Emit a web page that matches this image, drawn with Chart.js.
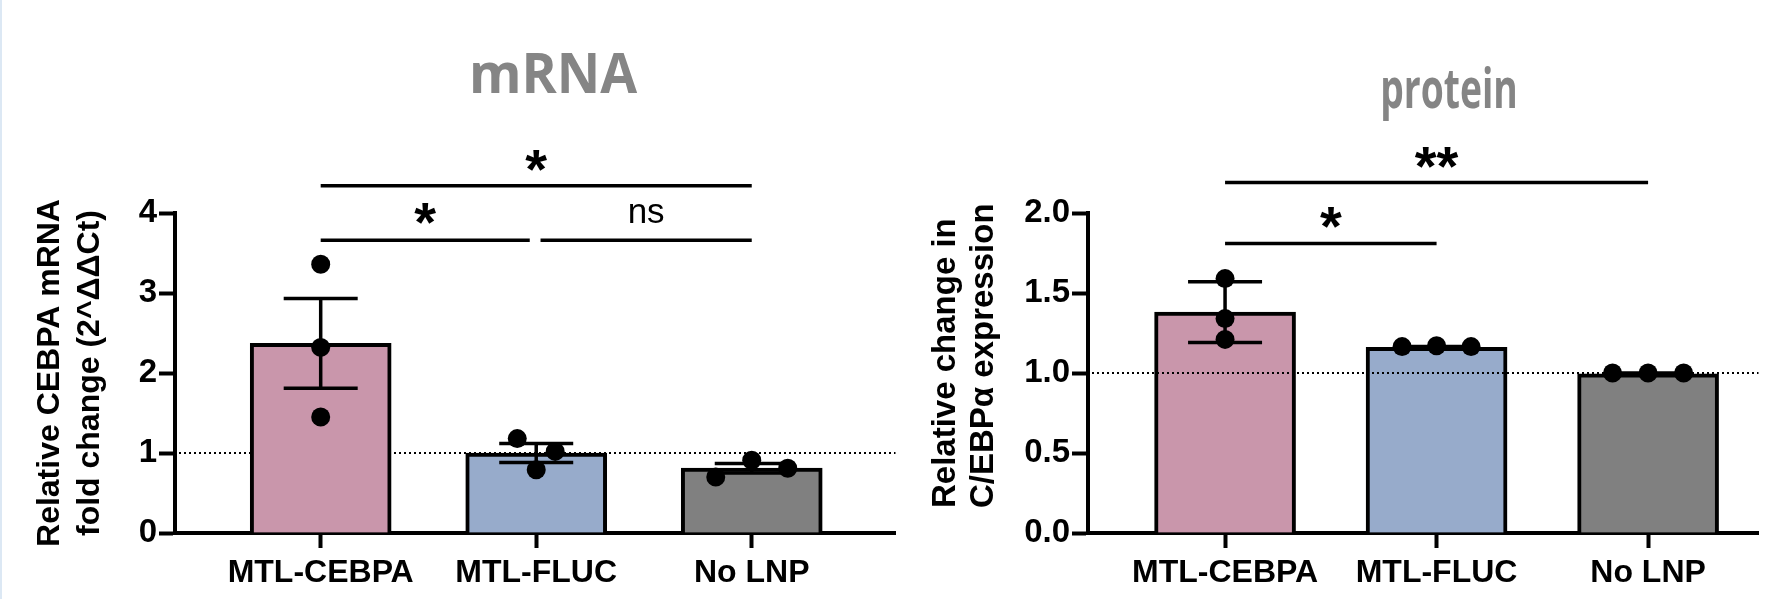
<!DOCTYPE html>
<html><head><meta charset="utf-8">
<script src="https://cdn.jsdelivr.net/npm/chart.js@4.4.1/dist/chart.umd.min.js"></script>
<style>
html,body{margin:0;padding:0;background:#fff;overflow:hidden;width:1768px;height:599px;}
#edge{position:absolute;left:0;top:0;width:2px;height:599px;background:#dce8f4;}
#w1{position:absolute;left:0;top:0;width:905px;height:599px;}
#w2{position:absolute;left:905px;top:0;width:863px;height:599px;}
</style></head><body>
<div id="edge"></div>
<div id="w1"><canvas id="c1"></canvas></div>
<div id="w2"><canvas id="c2"></canvas></div>
<script>
// ---- data ----
const categories = ['MTL-CEBPA', 'MTL-FLUC', 'No LNP'];
const barColors = ['#c996ab', '#97abcb', '#808080'];

const mrnaMeans = [2.37, 1.00, 0.81];
const mrnaErrors = [0.56, 0.12, 0.06];          // SEM
const mrnaPointGroup = [0, 0, 0, 1, 1, 1, 2, 2, 2];
const mrnaPointJitter = [0, 0, 0, -0.088, 0.088, 0, -0.167, 0, 0.167];
const mrnaPointValues = [3.36, 2.32, 1.45, 1.18, 1.02, 0.79, 0.70, 0.91, 0.81];
const mrnaTicks = [0, 1, 2, 3, 4];
const mrnaSig = [
  {from: 0, to: 2, level: 4.34, label: '*', labelLevel: 4.66},
  {from: 0, to: 0.97, level: 3.66, label: '*', labelLevel: 4.0},
  {from: 1.02, to: 2, level: 3.66, label: 'ns', labelLevel: 4.0}
];

const proteinMeans = [1.38, 1.16, 0.995];
const proteinErrors = [0.19, 0.005, 0.005];      // SD
const proteinPointGroup = [0, 0, 0, 1, 1, 1, 2, 2, 2];
const proteinPointJitter = [0, 0, 0, -0.163, 0, 0.163, -0.168, 0, 0.168];
const proteinPointValues = [1.59, 1.34, 1.21, 1.165, 1.17, 1.165, 1.0, 1.0, 1.0];
const proteinTicks = [0, 0.5, 1.0, 1.5, 2.0];
const proteinSig = [
  {from: 0, to: 2, level: 2.19, label: '**', labelLevel: 2.35},
  {from: 0, to: 1, level: 1.81, label: '*', labelLevel: 1.97}
];

const FONT = "'Liberation Sans', Arial, sans-serif";

function centeredText(ctx, text, x, cy) {
  ctx.textAlign = 'center';
  ctx.textBaseline = 'alphabetic';
  const m = ctx.measureText(text);
  const base = cy + (m.actualBoundingBoxAscent - m.actualBoundingBoxDescent) / 2;
  ctx.fillText(text, x, base);
}

const decor = {
  id: 'decor',
  beforeDatasetsDraw(chart, args, o) {
    if (o.refUnder) drawRef(chart, o);
  },
  afterDatasetDraw(chart, args, o) {
    if (args.index !== 0) return;
    if (!o.refUnder) drawRef(chart, o);
    const {ctx, scales: {x, y}} = chart;
    ctx.save();
    ctx.strokeStyle = '#000';
    ctx.lineWidth = 3.5;
    o.means.forEach((m, i) => {
      const e = o.errors[i];
      const px = x.getPixelForValue(i);
      const y1 = y.getPixelForValue(m + e), y2 = y.getPixelForValue(m - e);
      ctx.beginPath();
      ctx.moveTo(px, y1); ctx.lineTo(px, y2);
      ctx.moveTo(px - o.capW, y1); ctx.lineTo(px + o.capW, y1);
      ctx.moveTo(px - o.capW, y2); ctx.lineTo(px + o.capW, y2);
      ctx.stroke();
    });
    ctx.restore();
  },
  afterDraw(chart, args, o) {
    const {ctx, scales: {x, y}} = chart;
    ctx.save();
    ctx.strokeStyle = '#000';
    ctx.fillStyle = '#000';
    ctx.lineWidth = 3.5;
    o.sig.forEach(s => {
      const py = y.getPixelForValue(s.level);
      ctx.beginPath();
      ctx.moveTo(x.getPixelForValue(s.from), py);
      ctx.lineTo(x.getPixelForValue(s.to), py);
      ctx.stroke();
      const cx = (x.getPixelForValue(s.from) + x.getPixelForValue(s.to)) / 2;
      ctx.font = s.label === 'ns' ? "35px " + FONT : "bold 56px " + FONT;
      centeredText(ctx, s.label, cx, y.getPixelForValue(s.labelLevel));
    });
    // panel title
    ctx.save();
    ctx.fillStyle = '#858585';
    ctx.font = "bold 56px 'Open Sans', sans-serif";
    ctx.textAlign = 'center';
    ctx.textBaseline = 'alphabetic';
    ctx.translate(o.titleX, o.titleY);
    ctx.scale(o.titleSqueeze, 1);
    ctx.fillText(o.title, 0, 0);
    ctx.restore();
    if (o.yTitle) {
      ctx.fillStyle = '#000';
      ctx.font = "bold 33px " + FONT;
      ctx.textAlign = 'left';
      ctx.textBaseline = 'alphabetic';
      o.yTitle.lines.forEach((t, i) => {
        ctx.save();
        ctx.translate(o.yTitle.xs[i], o.yTitle.start);
        ctx.rotate(-Math.PI / 2);
        ctx.fillText(t, 0, 0);
        ctx.restore();
      });
    }
    ctx.restore();
  }
};

function drawRef(chart, o) {
  const {ctx, chartArea, scales: {y}} = chart;
  const py = y.getPixelForValue(o.refValue);
  ctx.save();
  ctx.strokeStyle = '#000';
  ctx.lineWidth = 2;
  ctx.setLineDash([2, 3]);
  ctx.beginPath();
  ctx.moveTo(chartArea.left + 4, py);
  ctx.lineTo(chartArea.right, py);
  ctx.stroke();
  ctx.restore();
}

function build(id, o) {
  const barData = o.means.map((v, i) => ({x: i, y: v}));
  const ptData = o.values.map((v, k) => ({x: o.group[k] + o.jitter[k], y: v}));
  const yScale = {
    type: 'linear', min: 0, max: o.ymax,
    afterBuildTicks: s => { s.ticks = o.ticks.map(v => ({value: v})); },
    ticks: {callback: o.fmt, font: {family: FONT, size: 33, weight: 'bold'}, color: '#000', padding: 2},
    grid: {display: true, drawOnChartArea: false, drawTicks: true, tickLength: 16, tickWidth: 4, tickColor: '#000'},
    border: {display: true, width: 4, color: '#000'},
    afterFit: s => { s.width = o.yW; }
  };
  if (o.yTitleBuiltin) yScale.title = o.yTitleBuiltin;
  return new Chart(document.getElementById(id), {
    type: 'bar',
    data: {datasets: [
      {type: 'bar', data: barData, backgroundColor: barColors, borderColor: '#000', borderWidth: 4,
       borderSkipped: 'start', barThickness: 141, order: 2},
      {type: 'scatter', data: ptData, pointRadius: 9.5, pointHoverRadius: 9.5, backgroundColor: '#000',
       borderWidth: 0, order: 1}
    ]},
    options: {
      responsive: true, maintainAspectRatio: false, animation: false,
      events: [],
      layout: {padding: {left: 0, right: o.padRight, top: 213, bottom: 0}},
      plugins: {legend: {display: false}, tooltip: {enabled: false}, decor: o.decor},
      scales: {
        x: {
          type: 'linear', min: o.xmin, max: o.xmax, offset: false, bounds: 'data',
          afterBuildTicks: s => { s.ticks = categories.map((c, i) => ({value: i})); },
          ticks: {callback: v => categories[v], font: {family: FONT, size: 32, weight: 'bold'}, color: '#000',
                  padding: 6, maxRotation: 0, autoSkip: false},
          grid: {display: true, offset: false, drawOnChartArea: false, drawTicks: true, tickLength: 15, tickWidth: 4, tickColor: '#000'},
          border: {display: true, width: 4, color: '#000'},
          afterFit: s => { s.height = 66; }
        },
        y: yScale
      }
    },
    plugins: [decor]
  });
}

build('c1', {
  means: mrnaMeans, values: mrnaPointValues, group: mrnaPointGroup, jitter: mrnaPointJitter,
  ymax: 4, ticks: mrnaTicks, fmt: v => String(v), yW: 175, padRight: 8,
  xmin: -0.676, xmax: 2.667,
  yTitleBuiltin: {display: true, text: ['Relative CEBPA mRNA', 'fold change (2^ΔΔCt)'],
    font: {family: FONT, size: 32, weight: 'bold', lineHeight: 1.25}, color: '#000', padding: {top: 30, bottom: 0}},
  decor: {means: mrnaMeans, errors: mrnaErrors, capW: 37, refValue: 1, refUnder: true, sig: mrnaSig,
    title: 'mRNA', titleX: 553, titleY: 93, titleSqueeze: 0.955}
});

build('c2', {
  means: proteinMeans, values: proteinPointValues, group: proteinPointGroup, jitter: proteinPointJitter,
  ymax: 2, ticks: proteinTicks, fmt: v => v.toFixed(1), yW: 183, padRight: 0,
  xmin: -0.648, xmax: 2.522,
  decor: {means: proteinMeans, errors: proteinErrors, capW: 37, refValue: 1, refUnder: false, sig: proteinSig,
    title: 'protein', titleX: 544, titleY: 108, titleSqueeze: 0.665,
    yTitle: {lines: ['Relative change in', 'C/EBPα expression'], xs: [50, 88], start: 508}}
});
</script>
</body></html>
